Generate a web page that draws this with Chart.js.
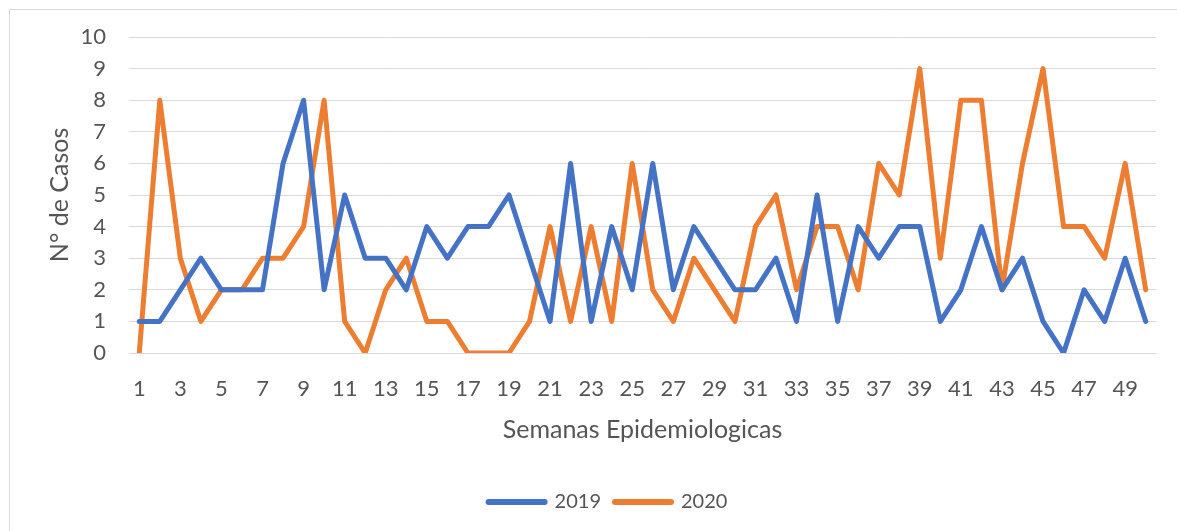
<!DOCTYPE html>
<html>
<head>
<meta charset="utf-8">
<script src="https://cdn.jsdelivr.net/npm/chart.js@4.4.0/dist/chart.umd.min.js"></script>
<style>
  html, body { margin: 0; padding: 0; background: #ffffff; }
  #wrap { position: relative; width: 1177px; height: 531px; }
</style>
</head>
<body>
<div id="wrap"><canvas id="c" width="1177" height="531"></canvas></div>
<script>
const weeks = Array.from({length: 50}, (_, i) => String(i + 1));
const series2019 = [1,1,2,3,2,2,2,6,8,2,5,3,3,2,4,3,4,4,5,3,1,6,1,4,2,6,2,4,3,2,2,3,1,5,1,4,3,4,4,1,2,4,2,3,1,0,2,1,3,1];
const series2020 = [0,8,3,1,2,2,3,3,4,8,1,0,2,3,1,1,0,0,0,1,4,1,4,1,6,2,1,3,2,1,4,5,2,4,4,2,6,5,9,3,8,8,2,6,9,4,4,3,6,2];
const yTicks = [0,1,2,3,4,5,6,7,8,9,10];
const seriesNames = ['2019', '2020'];
const xTitle = 'Semanas Epidemiologicas';
const yTitle = 'N° de Casos';

const FONT = 'Lato, "Open Sans", sans-serif';
const TXT = '#555555';
const GRID = '#d9d9d9';

const borderPlugin = {
  id: 'outerBorder',
  beforeDraw(chart) {
    const ctx = chart.ctx;
    ctx.save();
    ctx.strokeStyle = GRID;
    ctx.lineWidth = 1;
    ctx.beginPath();
    ctx.moveTo(9.5, chart.height + 2);
    ctx.lineTo(9.5, 9.5);
    ctx.lineTo(chart.width + 2, 9.5);
    ctx.stroke();
    ctx.restore();
  }
};

new Chart(document.getElementById('c'), {
  type: 'line',
  data: {
    labels: weeks,
    datasets: [
      { label: seriesNames[0], data: series2019, borderColor: '#4472C4', backgroundColor: '#4472C4',
        borderWidth: 5, pointRadius: 0, pointHoverRadius: 0, tension: 0,
        borderJoinStyle: 'round', borderCapStyle: 'round' },
      { label: seriesNames[1], data: series2020, borderColor: '#ED7D31', backgroundColor: '#ED7D31',
        borderWidth: 5, pointRadius: 0, pointHoverRadius: 0, tension: 0,
        borderJoinStyle: 'round', borderCapStyle: 'round' }
    ]
  },
  options: {
    responsive: false,
    animation: false,
    layout: { padding: { left: 60, right: 21, top: 37, bottom: 9 } },
    plugins: {
      tooltip: { enabled: false },
      legend: {
        position: 'bottom',
        labels: {
          usePointStyle: true,
          pointStyle: 'line',
          pointStyleWidth: 56,
          padding: 14,
          color: TXT,
          font: { family: FONT, size: 20 },
          generateLabels: function(chart) {
            return Chart.defaults.plugins.legend.labels.generateLabels(chart)
              .map(function(l) { l.lineWidth = 6; l.lineCap = 'round'; return l; });
          }
        }
      }
    },
    scales: {
      x: {
        type: 'category',
        offset: true,
        grid: { display: false },
        border: { display: false },
        ticks: {
          autoSkip: false, maxRotation: 0, minRotation: 0, padding: 15,
          color: TXT, font: { family: FONT, size: 22 },
          callback: function(v, i) { return i % 2 === 0 ? weeks[i] : ''; }
        },
        title: { display: true, text: xTitle, color: TXT,
                 font: { family: FONT, size: 25 }, padding: { top: 0, bottom: 33 } },
        afterFit: function(s) { s.height = 125; }
      },
      y: {
        min: 0, max: 10,
        afterBuildTicks: function(s) { s.ticks = yTicks.map(v => ({ value: v })); },
        grid: { color: GRID, lineWidth: 1, drawTicks: false },
        border: { display: false },
        ticks: { padding: 23, color: TXT, font: { family: FONT, size: 22 } },
        title: { display: true, text: yTitle, color: TXT,
                 font: { family: FONT, size: 25 }, padding: { top: -15, bottom: 0 } },
        afterFit: function(s) { s.width = 69; }
      }
    }
  },
  plugins: [borderPlugin]
});
</script>
</body>
</html>
